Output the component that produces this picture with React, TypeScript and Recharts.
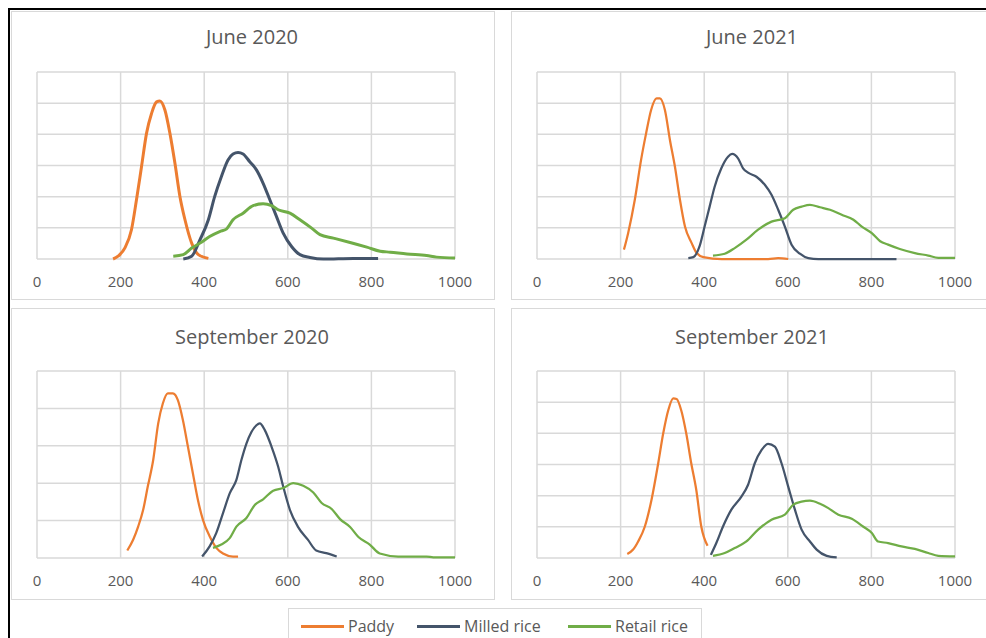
import { LineChart, Line, CartesianGrid, XAxis, YAxis } from "recharts";

type Pair = [number, number];

const seriesNames = ["Paddy", "Milled rice", "Retail rice"];
const seriesColors = ["#ED7D31", "#44546A", "#70AD47"];
const xTicks = [0, 200, 400, 600, 800, 1000];

// June 2020
const jun20Paddy: Pair[] = [
  [182, 0], [194, 0.09], [210, 0.35], [226, 0.94], [238, 1.9], [250, 2.96], [262, 4.03],
  [274, 4.67], [286, 5.04], [294, 5.07], [306, 4.78], [318, 4.03], [330, 3.07], [342, 2.0],
  [354, 1.26], [370, 0.51], [386, 0.14], [410, 0.02],
];
const jun20Milled: Pair[] = [
  [350, 0], [370, 0.09], [390, 0.62], [410, 1.26], [425, 2.0], [441, 2.64], [457, 3.18],
  [469, 3.37], [481, 3.42], [493, 3.37], [509, 3.12], [525, 2.86], [541, 2.43], [557, 1.9],
  [573, 1.36], [589, 0.83], [609, 0.4], [629, 0.14], [653, 0.05], [685, 0], [757, 0.02], [816, 0.02],
];
const jun20Retail: Pair[] = [
  [326, 0.09], [350, 0.14], [370, 0.35], [390, 0.51], [413, 0.72], [437, 0.88], [453, 0.96],
  [469, 1.26], [493, 1.47], [517, 1.71], [541, 1.77], [561, 1.71], [577, 1.58], [605, 1.47],
  [629, 1.26], [657, 0.99], [677, 0.78], [709, 0.67], [749, 0.53], [789, 0.38], [821, 0.25],
  [845, 0.22], [885, 0.16], [932, 0.11], [956, 0.06], [1000, 0.03],
];

// June 2021
const jun21Paddy: Pair[] = [
  [208, 0.3], [218, 0.83], [234, 1.9], [249, 3.18], [261, 4.03], [273, 4.78], [286, 5.15],
  [294, 5.15], [306, 4.78], [318, 3.82], [330, 2.96], [342, 1.9], [354, 1.04], [370, 0.51],
  [382, 0.19], [398, 0.06], [442, 0], [553, 0], [577, 0.03], [601, 0],
];
const jun21Milled: Pair[] = [
  [362, 0.03], [374, 0.06], [389, 0.41], [401, 1.04], [413, 1.68], [425, 2.32], [441, 2.91],
  [457, 3.28], [467, 3.37], [481, 3.23], [493, 2.91], [505, 2.77], [525, 2.64], [545, 2.38],
  [561, 2.06], [577, 1.58], [593, 1.04], [609, 0.46], [629, 0.17], [649, 0.03], [673, 0], [860, 0],
];
const jun21Retail: Pair[] = [
  [421, 0.11], [449, 0.17], [473, 0.35], [501, 0.62], [529, 0.94], [561, 1.2], [593, 1.31],
  [613, 1.58], [633, 1.68], [653, 1.74], [677, 1.66], [701, 1.58], [729, 1.42], [757, 1.26],
  [777, 1.04], [801, 0.83], [821, 0.57], [840, 0.46], [868, 0.32], [904, 0.19], [936, 0.11],
  [960, 0.04], [1000, 0.04],
];

// September 2020
const sep20Paddy: Pair[] = [
  [216, 0.2], [230, 0.49], [242, 0.84], [254, 1.29], [265, 1.91], [278, 2.62], [290, 3.6],
  [301, 4.13], [313, 4.4], [325, 4.4], [337, 4.22], [349, 3.69], [361, 2.98], [373, 2.26],
  [385, 1.55], [397, 1.02], [413, 0.58], [429, 0.27], [445, 0.12], [469, 0.04], [481, 0.04],
];
const sep20Milled: Pair[] = [
  [395, 0.04], [413, 0.31], [429, 0.67], [445, 1.2], [461, 1.73], [477, 2.09], [489, 2.62],
  [501, 3.06], [513, 3.37], [525, 3.55], [533, 3.6], [545, 3.42], [561, 2.98], [577, 2.44],
  [589, 1.91], [605, 1.29], [624, 0.84], [648, 0.49], [668, 0.2], [692, 0.13], [717, 0.04],
];
const sep20Retail: Pair[] = [
  [421, 0.27], [441, 0.36], [461, 0.53], [477, 0.84], [501, 1.07], [521, 1.42], [541, 1.57],
  [565, 1.8], [589, 1.87], [613, 2.0], [637, 1.93], [661, 1.75], [681, 1.47], [705, 1.31],
  [725, 1.04], [749, 0.83], [769, 0.56], [796, 0.36], [820, 0.12], [864, 0.04], [932, 0.04],
  [948, 0.02], [1000, 0.02],
];

// September 2021
const sep21Paddy: Pair[] = [
  [216, 0.13], [230, 0.27], [242, 0.53], [258, 1.01], [274, 1.87], [290, 3.04], [302, 4.0],
  [314, 4.74], [326, 5.12], [334, 5.1], [345, 4.74], [357, 4.0], [369, 3.04], [381, 2.19],
  [393, 1.01], [408, 0.39],
];
const sep21Milled: Pair[] = [
  [416, 0.1], [429, 0.48], [445, 1.01], [465, 1.55], [489, 1.97], [505, 2.35], [521, 3.04],
  [537, 3.46], [553, 3.66], [569, 3.57], [585, 3.04], [601, 2.29], [617, 1.55], [633, 0.91],
  [653, 0.53], [669, 0.27], [693, 0.07], [717, 0.02],
];
const sep21Retail: Pair[] = [
  [421, 0.07], [449, 0.16], [473, 0.32], [501, 0.53], [529, 0.91], [561, 1.23], [593, 1.39],
  [613, 1.71], [633, 1.81], [653, 1.84], [677, 1.74], [697, 1.6], [721, 1.39], [753, 1.26],
  [780, 1.01], [801, 0.8], [816, 0.53], [840, 0.48], [872, 0.37], [904, 0.29], [936, 0.16],
  [960, 0.07], [1000, 0.05],
];

const FONT = "'Open Sans', 'Liberation Sans', sans-serif";
const GRID = "#d9d9d9";

type Panel = {
  title: string;
  series: Pair[][];
  yMax: number;
  box: { left: number; top: number; width: number; height: number };
  plot: { left: number; top: number };
  titleX: number;
  titleY: number;
  lineWidth: number;
};

const PLOT_W = 418;
const PLOT_H = 187;

const panels: Panel[] = [
  {
    title: "June 2020",
    series: [jun20Paddy, jun20Milled, jun20Retail],
    yMax: 6,
    box: { left: 11, top: 11, width: 484, height: 289 },
    plot: { left: 37, top: 72 },
    titleX: 252,
    titleY: 37,
    lineWidth: 3,
  },
  {
    title: "June 2021",
    series: [jun21Paddy, jun21Milled, jun21Retail],
    yMax: 6,
    box: { left: 511, top: 11, width: 490, height: 289 },
    plot: { left: 537, top: 72 },
    titleX: 752,
    titleY: 37,
    lineWidth: 2.25,
  },
  {
    title: "September 2020",
    series: [sep20Paddy, sep20Milled, sep20Retail],
    yMax: 5,
    box: { left: 11, top: 308, width: 484, height: 292 },
    plot: { left: 37, top: 371 },
    titleX: 252,
    titleY: 337,
    lineWidth: 2.25,
  },
  {
    title: "September 2021",
    series: [sep21Paddy, sep21Milled, sep21Retail],
    yMax: 6,
    box: { left: 511, top: 308, width: 490, height: 292 },
    plot: { left: 537, top: 371 },
    titleX: 752,
    titleY: 337,
    lineWidth: 2.25,
  },
];

function ChartPanel({ p }: { p: Panel }) {
  const yTicks = Array.from({ length: p.yMax + 1 }, (_, i) => i);
  const padX = 24;
  const padTop = 10;
  const axisH = 40;
  return (
    <>
      <div
        style={{
          position: "absolute",
          left: p.box.left,
          top: p.box.top,
          width: p.box.width,
          height: p.box.height,
          border: `1px solid ${GRID}`,
          boxSizing: "border-box",
          background: "#fff",
        }}
      />
      <div
        style={{
          position: "absolute",
          left: p.titleX - 150,
          top: p.titleY - 14,
          width: 300,
          height: 28,
          lineHeight: "28px",
          textAlign: "center",
          fontFamily: FONT,
          fontSize: 20,
          color: "#595959",
        }}
      >
        {p.title}
      </div>
      <div style={{ position: "absolute", left: p.plot.left - padX, top: p.plot.top - padTop }}>
        <LineChart
          width={PLOT_W + padX * 2}
          height={PLOT_H + padTop + axisH}
          margin={{ top: padTop, right: padX, bottom: 0, left: padX }}
        >
          <CartesianGrid stroke={GRID} strokeWidth={1.5} />
          <XAxis
            dataKey="x"
            type="number"
            domain={[0, 1000]}
            ticks={xTicks}
            height={axisH}
            axisLine={false}
            tickLine={false}
            tickMargin={11}
            tick={{ fill: "#595959", fontSize: 15, fontFamily: FONT }}
            interval={0}
          />
          <YAxis hide domain={[0, p.yMax]} ticks={yTicks} />
          {p.series.map((pts, i) => (
            <Line
              key={seriesNames[i]}
              name={seriesNames[i]}
              data={pts.map(([x, v]) => ({ x, v }))}
              dataKey="v"
              type="monotone"
              stroke={seriesColors[i]}
              strokeWidth={p.lineWidth}
              dot={false}
              activeDot={false}
              isAnimationActive={false}
            />
          ))}
        </LineChart>
      </div>
    </>
  );
}

export default function App() {
  return (
    <div
      style={{
        position: "absolute",
        left: 0,
        top: 0,
        width: 986,
        height: 638,
        overflow: "hidden",
        background: "#fff",
      }}
    >
      {panels.map((p) => (
        <ChartPanel key={p.title} p={p} />
      ))}
      <div
        style={{
          position: "absolute",
          left: 8,
          top: 8,
          width: 1000,
          height: 660,
          borderTop: "2px solid #000",
          borderLeft: "2px solid #000",
        }}
      />
      <div
        style={{
          position: "absolute",
          left: 288,
          top: 608,
          width: 414,
          height: 50,
          border: `1px solid ${GRID}`,
          boxSizing: "border-box",
          background: "#fff",
        }}
      />
      {seriesNames.map((name, i) => {
        const starts = [301, 417, 568];
        return (
          <div
            key={name}
            style={{
              position: "absolute",
              left: starts[i],
              top: 615,
              height: 22,
              display: "flex",
              alignItems: "center",
              fontFamily: FONT,
              fontSize: 16,
              color: "#595959",
            }}
          >
            <span
              style={{
                display: "inline-block",
                width: 43,
                height: 3,
                background: seriesColors[i],
                marginRight: 4,
              }}
            />
            {name}
          </div>
        );
      })}
    </div>
  );
}
